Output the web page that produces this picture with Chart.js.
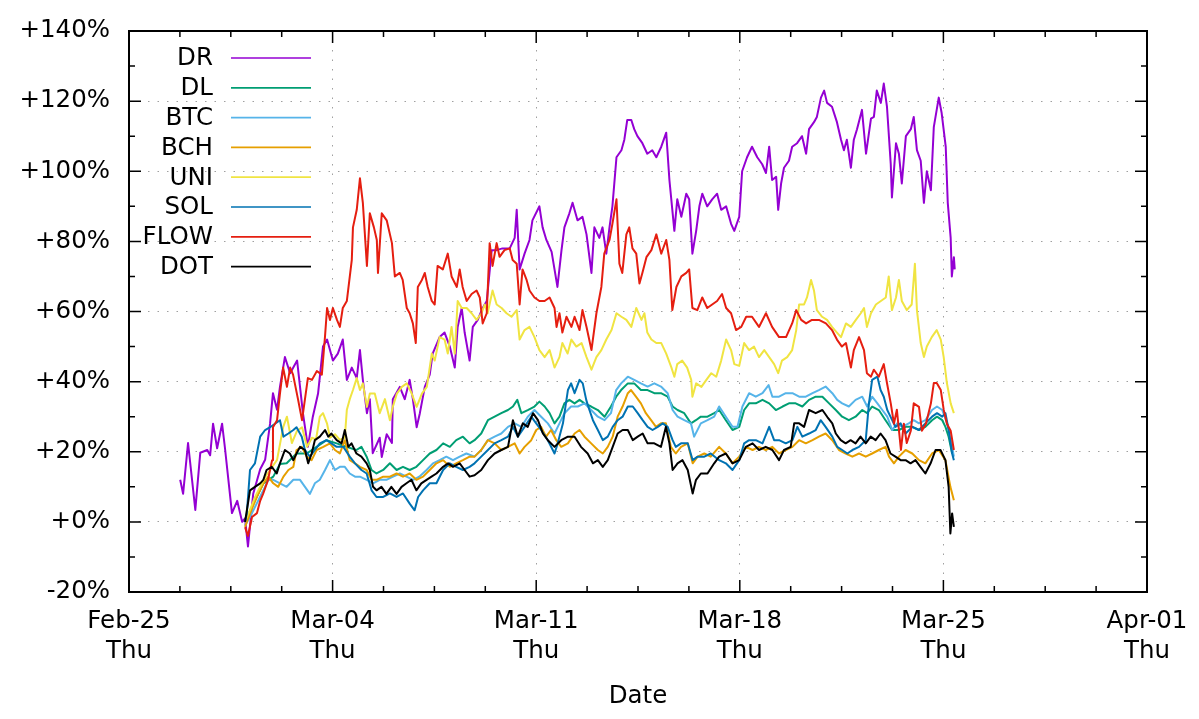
<!DOCTYPE html>
<html>
<head>
<meta charset="utf-8">
<title>DR / DL and coins, Feb-Mar</title>
<script src="https://cdn.jsdelivr.net/npm/chart.js@4.4.0/dist/chart.umd.min.js"></script>
<style>
  html, body { margin: 0; padding: 0; background: #fff; }
  #wrap { width: 1199px; height: 719px; }
</style>
</head>
<body>
<div id="wrap"><canvas id="chart" width="1199" height="719"></canvas></div>
<script>
"use strict";

// x = days since Feb-25 00:00, y = change in percent

const xTickLabels = [
  ['Feb-25', 'Thu'], ['Mar-04', 'Thu'], ['Mar-11', 'Thu'],
  ['Mar-18', 'Thu'], ['Mar-25', 'Thu'], ['Apr-01', 'Thu']
];

const seriesNames  = ['DR', 'DL', 'BTC', 'BCH', 'UNI', 'SOL', 'FLOW', 'DOT'];
const seriesColors = ['#9400d3', '#009e73', '#56b4e9', '#e69f00', '#f0e442', '#0072b2', '#e51e10', '#000000'];

const drDays = [1.76,1.86,2.03,2.28,2.45,2.69,2.79,2.89,3.03,3.20,3.30,3.54,3.72,3.89,3.99,4.09,4.27,4.51,4.68,4.85,
  4.95,5.09,5.19,5.36,5.54,5.78,5.98,6.15,6.32,6.50,6.67,6.81,7.01,7.18,7.35,7.49,7.66,7.83,7.94,8.04,
  8.18,8.28,8.38,8.62,8.69,8.86,9.04,9.07,9.31,9.48,9.65,9.76,9.89,10.00,10.17,10.34,10.44,10.68,10.85,11.03,
  11.20,11.30,11.44,11.54,11.71,11.82,11.99,12.16,12.30,12.47,12.64,12.84,13.09,13.26,13.33,13.43,13.60,13.77,13.87,14.11,
  14.22,14.35,14.53,14.73,14.87,14.97,15.14,15.25,15.42,15.59,15.73,15.90,16.00,16.17,16.28,16.41,16.52,16.62,16.76,16.93,
  17.03,17.13,17.27,17.37,17.48,17.65,17.82,17.99,18.13,18.30,18.47,18.58,18.68,18.75,18.85,18.99,19.16,19.26,19.37,19.50,
  19.61,19.71,19.88,20.05,20.22,20.36,20.53,20.70,20.81,20.98,21.08,21.25,21.42,21.60,21.77,21.90,22.01,22.11,22.25,22.32,
  22.42,22.52,22.69,22.80,22.97,23.14,23.28,23.38,23.55,23.65,23.79,23.90,24.00,24.17,24.34,24.48,24.58,24.68,24.82,24.92,
  25.03,25.20,25.34,25.51,25.61,25.71,25.85,25.95,26.06,26.19,26.23,26.37,26.47,26.57,26.71,26.88,26.98,27.09,27.22,27.33,
  27.43,27.57,27.67,27.84,27.94,28.08,28.15,28.25,28.29,28.36,28.39];
const drPct = [12,8,22.5,3.4,19.7,20.5,19,28,21,28,21,2.5,6,0,1,-7,8,15,17.7,28,
  36.7,32,38.5,47,42.4,46,31,21.4,30,36.6,50,52,46,48,52,40.5,44,41,49,40.5,
  31,35,19.6,24,18.5,25,22.5,35,38.5,35,40.5,35,27,31,38.5,42,48,52.7,54,50,
  44,55.6,61,54,46,55.6,57.6,61,63,77.5,77.5,78,78,81,89,72,76.5,80.4,86,90,
  84,80.4,77,67,77.5,84,88,91,86,87,82,71,84,81,84,76.5,84,90,104,106,
  109,114.6,114.6,112,110,108,105,106,104,107,111,97.5,89,83,92,87,93.6,92,76.5,83,
  90,93.6,90,92,93.6,89,90,85,83,87,100,104,107,104,102,99.5,107,97.5,98.4,89,
  96.5,101,103,107,108,110,105,112,114,115.5,121,123,119.5,118.4,114,109,106,109,101,109,
  112,117.5,105,115,115.5,123,119.5,125,118.4,102,92.5,108,105,96.5,110,112,115.5,106,103,91,
  100,94.6,112.6,121,116.6,107,91,81,70,75.5,72];

const dlDays = [3.99,4.28,4.62,4.96,5.19,5.42,5.76,6.11,6.45,6.79,7.14,7.48,7.82,7.99,8.17,8.34,8.51,8.74,8.97,9.20,
  9.42,9.65,9.88,10.11,10.34,10.57,10.80,11.03,11.25,11.48,11.71,11.88,12.11,12.34,12.57,12.80,13.03,13.20,13.35,13.49,
  13.71,13.94,14.11,14.29,14.46,14.63,14.80,14.97,15.14,15.32,15.49,15.66,15.89,16.12,16.35,16.57,16.75,16.92,17.15,17.37,
  17.60,17.83,18.06,18.29,18.52,18.69,18.86,19.09,19.32,19.49,19.66,19.89,20.12,20.29,20.52,20.75,20.98,21.15,21.32,21.55,
  21.78,22.01,22.24,22.47,22.69,22.92,23.15,23.38,23.61,23.84,24.07,24.30,24.52,24.75,24.98,25.21,25.38,25.55,25.78,26.01,
  26.24,26.47,26.70,26.93,27.16,27.38,27.61,27.78,27.96,28.07,28.18,28.30];
const dlPct = [0,5.2,11,12.9,16.5,16.7,19.5,19.5,21.4,23.3,22.4,21.4,20.5,21.4,18.6,14.8,13.8,14.8,16.7,14.8,
  15.7,14.8,15.7,17.6,19.5,20.5,22.4,21.4,23.3,24.3,22.4,23.3,25.2,29,30,31,31.9,32.9,34.8,31,
  31.9,32.9,34.3,32.9,31,28.1,30,33.8,34.8,33.8,34.8,33.8,32.9,31.9,30,32.9,35.7,37.6,39.5,39.5,
  37.6,37.6,36.7,36.7,35.7,32.9,31.9,31,28.1,29,30,30,31,31.9,29,26.2,27.1,31.9,33.8,33.8,
  34.8,33.8,31.9,32.9,33.8,33.8,32.9,34.8,35.7,35.7,33.8,31.9,30,29,30,31.9,31,32.9,31.9,29,
  26.2,26.2,27.1,27.1,26.2,27.1,29,30,29,27.1,24.3,19.5];

const btcDays = [3.99,4.16,4.39,4.62,4.79,4.96,5.19,5.42,5.65,5.88,6.05,6.22,6.39,6.56,6.74,6.91,7.08,7.25,7.42,7.59,
  7.77,7.94,8.17,8.39,8.62,8.85,9.08,9.31,9.54,9.77,9.98,10.23,10.45,10.68,10.91,11.14,11.37,11.60,11.88,12.11,
  12.34,12.57,12.80,13.03,13.26,13.49,13.71,13.94,14.17,14.40,14.63,14.80,14.97,15.20,15.43,15.66,15.89,16.12,16.35,16.57,
  16.75,16.92,17.15,17.37,17.60,17.83,18.06,18.29,18.52,18.69,18.86,19.09,19.32,19.43,19.66,19.89,20.12,20.29,20.52,20.75,
  20.92,21.09,21.32,21.55,21.78,21.99,22.12,22.35,22.58,22.81,23.04,23.27,23.50,23.72,23.95,24.18,24.35,24.52,24.75,24.98,
  25.21,25.38,25.55,25.73,25.90,26.07,26.24,26.41,26.58,26.81,26.98,27.16,27.38,27.61,27.78,27.96,28.13,28.30,28.36];
const btcPct = [-1,1.4,5.2,9,12,12,11,10,12,12,10,8,11,12,14.8,17.6,14.8,15.7,15.7,13.8,
  12.9,12.9,12,11,12,12,12.9,13.8,12.9,12,12.9,14.8,16.7,17.6,18.6,17.6,18.6,19.5,18.6,20.5,
  23.3,24.3,25.2,27.1,28.1,27.1,30,31.9,30,28.1,25.2,28.1,31,32.9,32.9,33.8,31.9,30,29,31,
  37.6,39.5,41.4,40.5,39.5,38.6,39.5,38.6,36.7,31.9,30,29,28.1,24.3,28.1,29,30,32.9,30,27.1,
  27.1,32.9,36.7,35.7,36.7,39,35.7,35.7,36.7,36.7,35.7,35.7,36.7,37.6,38.6,36.7,34.8,33.8,32.9,34.8,
  35.7,32.9,35.7,33.8,31.9,30,26.2,28.1,27.1,28.1,29,28.1,29,31.9,32.9,31.9,28.1,21.4,18.6];

const bchDays = [3.99,4.16,4.39,4.62,4.79,4.96,5.13,5.31,5.48,5.65,5.76,5.94,6.11,6.28,6.45,6.68,6.91,7.08,7.25,7.42,
  7.59,7.77,7.94,8.17,8.34,8.51,8.74,8.97,9.20,9.42,9.65,9.88,10.11,10.34,10.57,10.80,11.03,11.25,11.48,11.71,
  11.88,12.11,12.34,12.57,12.80,13.03,13.26,13.43,13.60,13.83,14.00,14.17,14.34,14.51,14.69,14.86,15.09,15.32,15.49,15.66,
  15.89,16.12,16.29,16.46,16.63,16.80,16.97,17.15,17.26,17.43,17.60,17.77,17.95,18.12,18.29,18.46,18.63,18.80,18.98,19.21,
  19.38,19.55,19.78,20.00,20.29,20.52,20.75,20.98,21.21,21.44,21.66,21.89,22.12,22.35,22.58,22.81,23.04,23.27,23.50,23.72,
  23.95,24.18,24.41,24.64,24.87,25.10,25.33,25.55,25.78,26.01,26.13,26.30,26.47,26.70,26.93,27.16,27.38,27.61,27.84,28.07,
  28.24,28.36];
const bchPct = [-1.4,2.4,7,11,12.9,11,10,12.9,14.8,15.7,20.5,21.4,18.6,17.6,20.5,21.4,22.4,20.5,19.5,23.3,
  17.6,16.7,15.7,14.8,12,12,12.9,12.9,13.8,12.9,13.8,12,12.9,14.8,16.7,17.6,15.7,16.7,17.6,18.6,
  18.6,20.5,23.3,22.4,20.5,21.4,22.4,19.5,21.4,23.3,26.2,27.1,24.3,26.2,23.3,21.4,22.4,25.2,26.2,24.3,
  22.4,20.5,19.5,21.4,24.3,30,32.9,36.7,37.6,35.7,33.8,31,29,27.1,28.1,28.1,21.4,19.5,21.4,22.4,
  16.7,18.6,19.5,18.6,21.4,19.5,16.7,18.6,21.4,20.5,21.4,20.5,21.4,19.5,20.5,21.4,23.3,22.4,23.3,24.3,
  25.2,23.3,20.5,19.5,18.6,19.5,18.6,19.5,20.5,21.4,18.6,16.7,18.6,20.5,19.5,17.6,16.7,19.5,20.5,17.6,
  10,6.2];

const uniDays = [3.99,4.16,4.33,4.51,4.68,4.85,5.09,5.30,5.43,5.60,5.78,5.95,6.12,6.29,6.43,6.56,6.67,6.81,6.91,7.08,
  7.25,7.42,7.49,7.59,7.70,7.83,7.94,8.04,8.18,8.28,8.45,8.62,8.80,8.97,9.07,9.21,9.38,9.55,9.72,9.89,
  10.07,10.24,10.41,10.51,10.68,10.85,10.96,11.09,11.20,11.30,11.44,11.61,11.78,11.95,12.12,12.23,12.33,12.50,12.64,12.81,
  12.98,13.15,13.33,13.43,13.60,13.77,13.94,14.11,14.29,14.46,14.63,14.80,14.90,15.08,15.21,15.38,15.56,15.73,15.90,16.07,
  16.24,16.41,16.59,16.76,16.93,17.10,17.27,17.44,17.62,17.72,17.82,17.96,18.13,18.30,18.47,18.65,18.75,18.85,19.02,19.19,
  19.33,19.37,19.50,19.68,19.85,20.02,20.19,20.36,20.53,20.70,20.81,20.98,21.15,21.32,21.49,21.66,21.84,22.01,22.18,22.32,
  22.45,22.63,22.80,22.94,23.04,23.21,23.31,23.45,23.55,23.65,23.83,24.00,24.17,24.34,24.48,24.65,24.82,24.99,25.16,25.27,
  25.37,25.51,25.68,25.85,26.02,26.12,26.23,26.37,26.47,26.57,26.74,26.91,27.02,27.09,27.22,27.33,27.43,27.60,27.77,27.91,
  28.01,28.12,28.25,28.36];
const uniPct = [0,3.4,7,10,12.8,14.8,17.7,27,30,22.5,26,27,21.4,24,23.5,30,31,28,24,25,
  23.4,24,32,35,37.6,41,37.6,39.5,32.8,36.6,36.6,31,35,29,32.8,36.6,38.5,39.5,36.6,32.8,
  36.6,38.5,48,46,52.7,52,48,55.6,48,63,61,61,59.5,57.6,59.5,62,59.5,66,62,61,
  59.5,58.5,60.4,52,54.7,55.6,52.7,49,47,49,44,47,51,48,52,50,51,47,43.4,47,
  49,52,54.7,59.5,58.5,57.6,55.6,61,57.6,59.5,54,52,51,51,48,44,41.4,45,46,44,
  40.5,35.7,39.5,38.5,40.5,42.4,41.4,46,52,49,45,44.5,51,49,50,47,49,47,45,42.4,
  46,47,49,54.7,62,62,64,69,66,60.4,58.5,57.6,55.6,54,52.7,56.6,55.6,57.6,59.5,61,
  55.6,59.5,62,63,64,70,60.4,64,69,63,60.4,62,73.6,60.4,51,47,50,52.7,54.7,52,
  47,39.6,33.8,31];

const solDays = [3.99,4.05,4.16,4.33,4.51,4.68,4.85,5.02,5.19,5.31,5.48,5.65,5.76,5.94,6.05,6.22,6.39,6.56,6.79,6.96,
  7.14,7.37,7.59,7.77,7.99,8.17,8.34,8.51,8.74,8.97,9.20,9.42,9.65,9.82,9.94,10.11,10.34,10.57,10.80,11.03,
  11.25,11.48,11.71,11.88,12.11,12.34,12.57,12.80,13.03,13.20,13.37,13.60,13.83,14.00,14.17,14.40,14.63,14.74,14.92,15.09,
  15.20,15.32,15.49,15.60,15.72,15.83,15.95,16.12,16.29,16.46,16.63,16.80,16.97,17.15,17.32,17.49,17.66,17.83,18.00,18.18,
  18.35,18.52,18.69,18.80,18.98,19.21,19.38,19.55,19.78,20.00,20.29,20.52,20.75,20.98,21.15,21.32,21.55,21.78,22.01,22.18,
  22.35,22.58,22.81,22.98,23.15,23.38,23.61,23.78,23.95,24.18,24.35,24.52,24.70,24.87,25.10,25.33,25.44,25.55,25.73,25.84,
  25.95,26.07,26.18,26.35,26.53,26.70,26.93,27.16,27.38,27.61,27.78,27.96,28.07,28.18,28.30,28.36];
const solPct = [0,2.4,14.8,16.7,24.3,26.2,27,28,29,24.3,25.2,26.2,27,24.3,20.5,18.6,20.5,22.4,23.3,22.4,
  21.4,21.4,18.6,16.7,14.8,13.8,9,7.1,7.1,8.1,7.1,8.1,5.2,3.3,7.1,9,11,11,14.8,16.7,
  15.7,14.8,15.7,16.7,18.6,20.5,22.4,23.3,24.3,27.1,24.3,27.1,30,28.1,26.2,23.3,19.5,22.4,28.1,37.6,
  39.5,36.7,40.5,39.5,34.8,31.9,29,26.2,23.3,24.3,27.1,29,30,32.9,32.9,31,29,27.1,26.2,27.1,
  28.1,27.1,23.3,21.4,22.4,22.4,17.6,18.6,18.6,19.5,17.6,16.7,14.8,17.6,22.4,23.3,23.3,22.4,27.1,23.3,
  23.3,22.4,23.3,27.1,24.3,25.2,26.2,29,27.1,24.3,21.4,20.5,19.5,20.5,21.4,23.3,33.8,40.5,41.4,37.6,
  35.7,31.9,30,27.1,28.1,25.2,27.1,26.2,28.1,30,31,30,31,26.2,19.5,17.6];

const flowDays = [3.99,4.09,4.23,4.40,4.51,4.61,4.78,4.92,4.95,5.09,5.19,5.30,5.43,5.54,5.64,5.81,5.95,6.05,6.15,6.29,
  6.46,6.63,6.74,6.81,6.91,7.01,7.15,7.25,7.35,7.49,7.66,7.70,7.83,7.94,8.04,8.18,8.28,8.42,8.52,8.56,
  8.69,8.86,9.04,9.14,9.31,9.41,9.55,9.65,9.76,9.86,9.93,10.07,10.17,10.27,10.41,10.51,10.61,10.79,10.96,11.09,
  11.27,11.37,11.47,11.61,11.78,11.95,12.06,12.16,12.30,12.40,12.50,12.64,12.74,12.91,13.09,13.19,13.33,13.43,13.53,13.67,
  13.77,13.94,14.11,14.29,14.46,14.63,14.70,14.80,14.90,15.04,15.21,15.32,15.49,15.59,15.73,15.90,16.07,16.24,16.34,16.52,
  16.62,16.76,16.86,16.96,17.10,17.20,17.31,17.44,17.55,17.65,17.79,17.96,18.13,18.30,18.47,18.58,18.68,18.82,18.99,19.16,
  19.26,19.37,19.54,19.71,19.88,20.05,20.22,20.39,20.53,20.70,20.87,21.05,21.22,21.42,21.66,21.90,22.11,22.35,22.59,22.80,
  22.94,23.11,23.28,23.48,23.72,23.96,24.17,24.34,24.51,24.65,24.82,24.92,25.10,25.27,25.37,25.51,25.61,25.78,25.95,26.06,
  26.19,26.30,26.40,26.54,26.64,26.74,26.88,26.98,27.16,27.26,27.40,27.57,27.67,27.77,27.91,28.01,28.12,28.25,28.36];
const flowPct = [-1.5,-4,1.4,2.5,6,8,12,17.6,27,29,36.6,44,38.5,44,42,35,29,35,41,40.5,
  43,42,53,61,57.6,61,57.6,55.6,61,63,74.7,84,89,98,91,73,88,84,80.4,71,
  88,86,79.5,70,71,69,61,59.5,56.6,51,67,69,71,67,63,62,73,72,76.5,70,
  67,72,67,63,65,66,64,56.6,59.5,79.5,73,79.5,75.6,77.5,78,74.7,73.6,62,72,69,
  66,64,63,63,64,61,55.6,59.5,54,58.5,55.6,58.5,54.7,60.4,55.6,49,59.5,67,76.5,80.4,
  85,92,73.6,71,82,84,78,76.5,68,71,75.5,77.5,82,76.5,80.4,74.7,60.4,67,70,71,
  72,61,60.4,64,61,62,63,65,61,59.5,54.7,55.6,58.5,58.5,55.6,59.5,55.6,52.7,52.7,56.6,
  60.4,57.6,56.6,57.6,57.6,56.6,54.7,52,50,51,44,49,52.7,49,42.4,41.4,43.4,41.4,45,39.6,
  33.8,28,32,20.5,28,22.5,26,33.8,32.8,26,28,33.8,39.6,39.6,37.6,32,28,26,20.5];

const dotDays = [3.99,4.16,4.33,4.51,4.62,4.73,4.91,5.08,5.19,5.36,5.53,5.65,5.76,5.88,6.05,6.16,6.28,6.39,6.56,6.74,
  6.85,6.96,7.14,7.31,7.42,7.54,7.65,7.82,7.99,8.17,8.28,8.39,8.51,8.68,8.85,9.02,9.20,9.37,9.54,9.71,
  9.88,10.05,10.23,10.40,10.57,10.80,10.97,11.14,11.37,11.54,11.71,11.88,12.11,12.34,12.57,12.80,13.03,13.20,13.37,13.54,
  13.71,13.89,14.06,14.23,14.40,14.63,14.86,15.09,15.32,15.54,15.77,15.95,16.12,16.29,16.46,16.63,16.80,16.97,17.15,17.32,
  17.49,17.66,17.83,18.06,18.29,18.46,18.58,18.69,18.86,19.03,19.21,19.38,19.49,19.66,19.89,20.12,20.29,20.52,20.75,20.98,
  21.21,21.44,21.66,21.89,22.12,22.35,22.52,22.75,22.87,23.04,23.21,23.38,23.61,23.84,24.01,24.18,24.30,24.47,24.64,24.81,
  24.98,25.15,25.33,25.50,25.67,25.84,26.01,26.18,26.35,26.53,26.70,26.87,27.04,27.21,27.38,27.56,27.73,27.90,28.07,28.18,
  28.24,28.30,28.36];
const dotPct = [0,9,10,11,12,14.8,15.7,13.8,16.7,20.5,19.5,17.6,19.5,21.4,20.5,16.7,19.5,23.3,24.3,26.2,
  24.3,25.2,23.3,22.4,26.2,21.4,22.4,19.5,18.6,16.7,14.8,10,9,10,8,10,8,10,11,12,
  9,11,12,12.9,13.8,15.7,16.7,15.7,16.7,14.8,12.9,13.3,14.8,17.6,19.5,20.5,21.4,29,24.3,28.1,
  27.1,31,29,25.2,23.3,21.4,23.3,24.3,24.3,21.4,19.5,16.7,17.6,15.7,17.6,21.4,25.2,26.2,26.2,23.3,
  24.3,25.2,22.4,22.4,21.4,27.1,22.4,14.8,16.7,17.6,14.8,8.1,11.9,13.8,13.8,16.7,18.6,19.5,16.7,17.6,
  21.4,22.4,20.5,21.4,20.5,17.6,20.5,21.4,28.1,28.1,27.1,31.9,31,31.9,29.9,28.1,25.2,23.3,22.4,23.3,
  22.4,24.3,22.4,24.3,23.3,25.2,23.3,19.5,18.6,17.6,17.6,16.7,17.6,15.7,13.8,16.7,20.5,20.5,17.6,10,
  -3.3,2.4,-1.4];

const seriesDays = [drDays, dlDays, btcDays, bchDays, uniDays, solDays, flowDays, dotDays];
const seriesPct  = [drPct, dlPct, btcPct, bchPct, uniPct, solPct, flowPct, dotPct];


const FONT = '"DejaVu Sans", "Noto Sans", sans-serif';
Chart.defaults.font.family = FONT;
Chart.defaults.font.size = 24.5;
Chart.defaults.color = '#000';

function toPoints(days, pct) {
  return days.map(function(d, i) { return {x: d, y: pct[i]}; });
}

let datasets = seriesNames.map(function(name, i) {
  return {
    label: name,
    data: toPoints(seriesDays[i], seriesPct[i]),
    borderColor: seriesColors[i],
    backgroundColor: seriesColors[i],
    borderWidth: 2,
    borderJoinStyle: 'round',
    pointRadius: 0,
    tension: 0,
    fill: false,
    order: seriesNames.length - 1 - i   // later series drawn on top, as gnuplot does
  };
});

// border, inward ticks (mirrored) and the key, gnuplot style
const gnuplotFrame = {
  id: 'gnuplotFrame',
  afterDatasetsDraw(chart) {
    const ctx = chart.ctx;
    const a = chart.chartArea;
    const xs = chart.scales.x;
    const ys = chart.scales.y;

    ctx.save();
    ctx.strokeStyle = '#000';
    ctx.lineWidth = 1.5;
    ctx.beginPath();
    for (let k = 0; k <= 20; k++) {
      const px = xs.getPixelForValue(k * 1.75);
      const len = (k % 4 === 0) ? 12 : 6;
      ctx.moveTo(px, a.bottom); ctx.lineTo(px, a.bottom - len);
      ctx.moveTo(px, a.top);    ctx.lineTo(px, a.top + len);
    }
    for (let v = -20; v <= 140; v += 10) {
      const py = ys.getPixelForValue(v);
      const len = (v % 20 === 0) ? 12 : 6;
      ctx.moveTo(a.left, py);  ctx.lineTo(a.left + len, py);
      ctx.moveTo(a.right, py); ctx.lineTo(a.right - len, py);
    }
    ctx.stroke();

    ctx.lineWidth = 2;
    ctx.strokeRect(a.left, a.top, a.right - a.left, a.bottom - a.top);

    // key
    ctx.font = '24.5px ' + FONT;
    ctx.textAlign = 'right';
    ctx.textBaseline = 'middle';
    chart.data.datasets.forEach(function(ds, i) {
      const ry = a.top + 27 + i * 29.8;
      ctx.fillStyle = '#000';
      ctx.fillText(ds.label, a.left + 84, ry + 1);
      ctx.strokeStyle = ds.borderColor;
      ctx.lineWidth = 1.7;
      ctx.beginPath();
      ctx.moveTo(a.left + 102, ry);
      ctx.lineTo(a.left + 182, ry);
      ctx.stroke();
    });
    ctx.restore();
  }
};

new Chart(document.getElementById('chart'), {
  type: 'line',
  data: { datasets: datasets },
  options: {
    responsive: false,
    animation: false,
    events: [],
    layout: { padding: { top: 31, right: 52, left: 0, bottom: 0 } },
    plugins: {
      legend: { display: false },
      tooltip: { enabled: false }
    },
    scales: {
      x: {
        type: 'linear',
        min: 0,
        max: 35,
        afterFit: function(s) { s.height = 127; s.paddingLeft = 0; s.paddingRight = 0; },
        grid: { color: '#a0a0a0', lineWidth: 1, drawTicks: false },
        border: { display: false, dash: [1.5, 8] },
        ticks: {
          stepSize: 7,
          autoSkip: false,
          maxRotation: 0,
          padding: 15,
          font: { size: 24.5, lineHeight: 1.225 },
          callback: function(v) { return xTickLabels[Math.round(v / 7)]; }
        },
        title: {
          display: true,
          text: 'Date',
          font: { size: 24.5, lineHeight: 1.2 },
          padding: { top: 0, bottom: 8 }
        }
      },
      y: {
        min: -20,
        max: 140,
        afterFit: function(s) { s.width = 129; s.paddingTop = 0; s.paddingBottom = 0; },
        grid: { color: '#a0a0a0', lineWidth: 1, drawTicks: false },
        border: { display: false, dash: [1.5, 8] },
        ticks: {
          stepSize: 20,
          padding: 19,
          callback: function(v) { return (v >= 0 ? '+' : '') + v + '%'; }
        }
      }
    }
  },
  plugins: [gnuplotFrame]
});
</script>
</body>
</html>
